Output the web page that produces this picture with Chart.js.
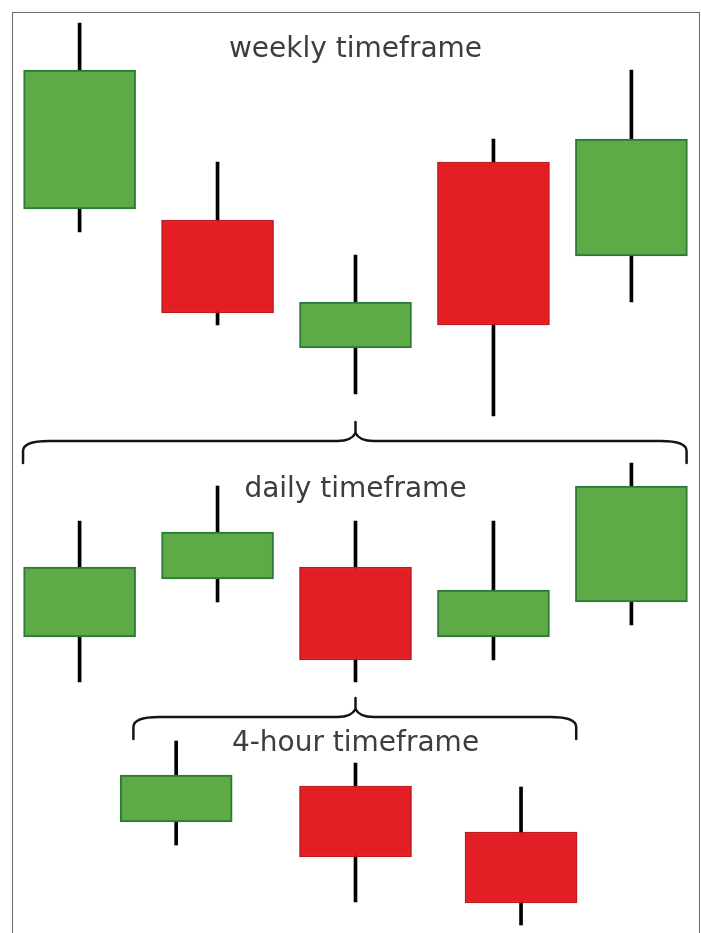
<!DOCTYPE html>
<html>
<head>
<meta charset="utf-8">
<title>Timeframes</title>
<script src="https://cdn.jsdelivr.net/npm/chart.js@4.4.1/dist/chart.umd.min.js"></script>
<style>
  html, body { margin: 0; padding: 0; background: #fff; width: 701px; height: 933px; overflow: hidden; }
  #frame { position: absolute; left: 12px; top: 12px; width: 688px; height: 960px; border: 1px solid #6b6b6b; box-sizing: border-box; }
  #wrap { position: absolute; left: 12px; top: 13px; width: 687px; height: 920px; }
</style>
</head>
<body>
<div id="frame"></div>
<div id="wrap"><canvas id="candleChart"></canvas></div>
<script>
// weekly candles (slot index on x, price on y)
const weeklyX = [0, 1, 2, 3, 4];
const weeklyOpen = [72.4, 71.3, 58.5, 77.1, 67.7];
const weeklyClose = [86.3, 62.0, 63.1, 60.8, 79.4];
const weeklyHigh = [91.0, 77.1, 67.8, 79.4, 86.3];
const weeklyLow = [70.1, 60.8, 53.9, 51.7, 63.1];

// daily candles
const dailyX = [0, 1, 2, 3, 4];
const dailyOpen = [29.6, 35.4, 36.6, 29.6, 33.1];
const dailyClose = [36.6, 40.1, 27.3, 34.3, 44.7];
const dailyHigh = [41.2, 44.7, 41.2, 41.2, 47.0];
const dailyLow = [25.1, 33.1, 25.1, 27.3, 30.8];

// 4-hour candles
const fourHourX = [0.7, 2.0, 3.2];
const fourHourOpen = [11.1, 14.7, 10.1];
const fourHourClose = [15.8, 7.6, 3.0];
const fourHourHigh = [19.2, 17.0, 14.6];
const fourHourLow = [8.8, 3.1, 0.8];

const timeframeLabels = ["weekly timeframe", "daily timeframe", "4-hour timeframe"];

const GREEN = "#5eaa46";
const GREEN_EDGE = "#2b7a35";
const RED = "#e31e25";
const RED_EDGE = "#bb1a20";

// flatten the three rows into one list of candles
const candles = [];
function addRow(xs, open, close, high, low) {
  xs.forEach((x, i) => {
    candles.push({ x: x, open: open[i], close: close[i], high: high[i], low: low[i] });
  });
}
addRow(weeklyX, weeklyOpen, weeklyClose, weeklyHigh, weeklyLow);
addRow(dailyX, dailyOpen, dailyClose, dailyHigh, dailyLow);
addRow(fourHourX, fourHourOpen, fourHourClose, fourHourHigh, fourHourLow);

const isUp = (i) => candles[i].close >= candles[i].open;

/** Braces and timeframe captions */
const bracePlugin = {
  id: "braces",
  afterDatasetsDraw(chart, args, opts) {
    const { ctx } = chart;
    const xs = chart.scales.x;
    const ys = chart.scales.y;
    ctx.save();
    ctx.strokeStyle = "#151515";
    ctx.lineWidth = 2.5;
    ctx.lineCap = "round";
    ctx.lineJoin = "round";
    opts.braces.forEach((b) => {
      const x0 = xs.getPixelForValue(b.from);
      const x1 = xs.getPixelForValue(b.to);
      const xm = xs.getPixelForValue(b.mid);
      const yl = ys.getPixelForValue(b.level);
      const yt = yl + 22;
      const yc = yl - 8;
      const yp = yl - 19;
      ctx.beginPath();
      ctx.moveTo(x0, yt);
      ctx.lineTo(x0, yl + 10);
      ctx.quadraticCurveTo(x0, yl, x0 + 26, yl);
      ctx.lineTo(xm - 18, yl);
      ctx.quadraticCurveTo(xm - 4, yl, xm, yc);
      ctx.lineTo(xm, yp);
      ctx.moveTo(xm, yc);
      ctx.quadraticCurveTo(xm + 4, yl, xm + 18, yl);
      ctx.lineTo(x1 - 26, yl);
      ctx.quadraticCurveTo(x1, yl, x1, yl + 10);
      ctx.lineTo(x1, yt);
      ctx.stroke();
    });

    ctx.fillStyle = "#3d3d3d";
    ctx.font = "28px 'DejaVu Sans'";
    ctx.textAlign = "center";
    ctx.textBaseline = "alphabetic";
    opts.captions.forEach((c, i) => {
      ctx.fillText(timeframeLabels[i], xs.getPixelForValue(c.x), ys.getPixelForValue(c.y));
    });
    ctx.restore();
  },
};

const ctx = document.getElementById("candleChart").getContext("2d");
new Chart(ctx, {
  type: "bar",
  data: {
    datasets: [
      {
        label: "Body",
        data: candles.map((c) => ({ x: c.x, y: [c.open, c.close] })),
        backgroundColor: (c) => (isUp(c.dataIndex) ? GREEN : RED),
        borderColor: (c) => (isUp(c.dataIndex) ? GREEN_EDGE : RED_EDGE),
        borderWidth: (c) => (isUp(c.dataIndex) ? 2 : 1.5),
        borderSkipped: false,
        barThickness: 112,
        stack: "candle",
        order: 1,
      },
      {
        label: "Wick",
        data: candles.map((c) => ({ x: c.x, y: [c.low, c.high] })),
        backgroundColor: "#000",
        borderWidth: 0,
        barThickness: 3,
        stack: "candle",
        order: 2,
      },
    ],
  },
  options: {
    responsive: true,
    maintainAspectRatio: false,
    animation: false,
    events: [],
    layout: { padding: 0 },
    scales: {
      x: { type: "linear", display: false, min: -0.49, max: 4.49, offset: false },
      y: { display: false, min: 0, max: 92, stacked: false },
    },
    plugins: {
      legend: { display: false },
      tooltip: { enabled: false },
      braces: {
        braces: [
          { from: -0.41, to: 4.4, mid: 2.0, level: 49.2 },
          { from: 0.39, to: 3.6, mid: 2.0, level: 21.6 },
        ],
        captions: [
          { x: 2.0, y: 87.6 },
          { x: 2.0, y: 43.6 },
          { x: 2.0, y: 18.2 },
        ],
      },
    },
  },
  plugins: [bracePlugin],
});
</script>
</body>
</html>
